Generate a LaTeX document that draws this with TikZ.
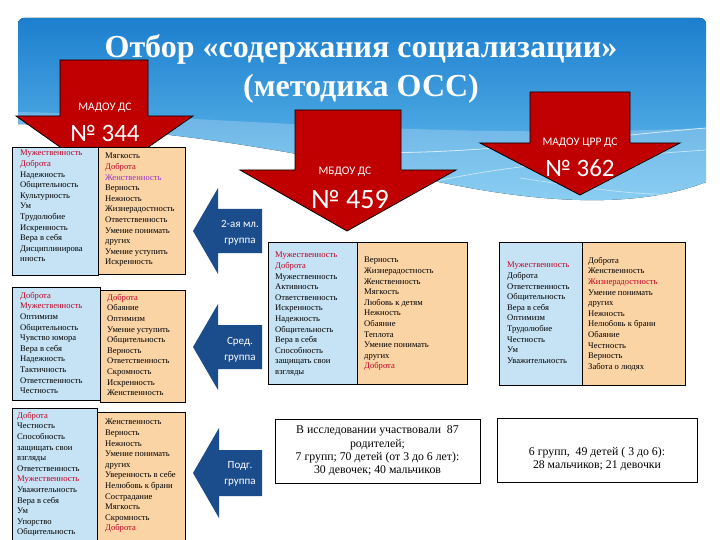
\documentclass[tikz,border=0pt]{standalone}
\usepackage{fontspec}
\setmainfont{Liberation Serif}
\newfontfamily\carl{Carlito}
\definecolor{redar}{HTML}{C00000}
\definecolor{bluear}{HTML}{1B4C8C}
\definecolor{boxblue}{HTML}{C6E3F6}
\definecolor{boxorange}{HTML}{FBD4A6}
\definecolor{tred}{HTML}{C00020}
\definecolor{tpurple}{HTML}{9933CC}
\definecolor{bantop}{HTML}{1C7FCE}
\definecolor{banbot}{HTML}{6CC2F0}
\newcommand\rd[1]{\textcolor{tred}{#1}}
\newcommand\pu[1]{\textcolor{tpurple}{#1}}
\tikzset{
  lst/.style={align=left, inner sep=0pt, anchor=north west, font=\fontsize{8.6}{10.6}\selectfont},
  bbox/.style={draw=black, line width=0.8pt, fill=boxblue},
  obox/.style={draw=black, line width=0.8pt, fill=boxorange},
  redarrow/.style={fill=redar, draw=black, line width=0.8pt},
  bluearrow/.style={fill=bluear},
  artxt/.style={text=white, inner sep=0pt, font=\carl\fontsize{11.5}{12}\selectfont},
  arnum/.style={text=white, inner sep=0pt, font=\carl\fontsize{25}{26}\selectfont},
  grptxt/.style={text=white, align=center, inner sep=0pt, font=\carl\fontsize{11}{16.5}\selectfont},
  infobox/.style={draw=black, line width=0.8pt, fill=white},
  infotxt/.style={align=center, inner sep=0pt, font=\fontsize{11.8}{13.2}\selectfont},
  titletxt/.style={text=white, inner sep=0pt, font=\bfseries\fontsize{32}{34}\selectfont}
}
\begin{document}
\begin{tikzpicture}[x=1pt,y=-1pt]
\useasboundingbox (0,0) rectangle (720,540);
\fill[white] (0,0) rectangle (720,540);
% banner
\begin{scope}
\clip[rounded corners=6pt] (18,18) rectangle (706,300);
\fill[top color=bantop, bottom color=banbot]
  (18,18) -- (706,18) -- (706,182)
  .. controls (650,204) and (570,206) .. (470,188)
  .. controls (360,168) and (220,130) .. (18,124) -- cycle;
\fill[white, opacity=0.22]
  (18,112) .. controls (220,116) and (430,140) .. (706,128)
  -- (706,182)
  .. controls (650,204) and (570,206) .. (470,188)
  .. controls (360,168) and (220,130) .. (18,124) -- cycle;
\draw[white, opacity=0.7, line width=0.8pt] (300,150) .. controls (450,160) and (560,140) .. (706,128);
\draw[white, opacity=0.6, line width=0.7pt] (420,185) .. controls (480,170) and (560,160) .. (706,150);
\draw[white, opacity=0.5, line width=0.7pt] (520,178) .. controls (600,190) and (640,196) .. (690,194);
\end{scope}
% title
\node[titletxt] (t1) at (361,49) {Отбор «содержания социализации»};
\node[titletxt] (t2) at (361,89) {(методика ОСС)};
% red arrows
\draw[redarrow] (60,60) -- (148,60) -- (148,116) -- (193,116) -- (104,178) -- (16,116) -- (60,116) -- cycle;
\node[artxt] (a1) at (105,108) {МАДОУ ДС};
\node[arnum] (n1) at (105,133) {№ 344};
\draw[redarrow] (295,110) -- (401,110) -- (401,170) -- (456,170) -- (347,231) -- (240,170) -- (295,170) -- cycle;
\node[artxt] (a2) at (345,172) {МБДОУ ДС};
\node[arnum, font=\carl\fontsize{28}{29}\selectfont] (n2) at (350,200) {№ 459};
\draw[redarrow] (530,92) -- (630,92) -- (630,143) -- (680,143) -- (580,195) -- (480,143) -- (530,143) -- cycle;
\node[artxt] (a3) at (580,143) {МАДОУ ЦРР ДС};
\node[arnum] (n3) at (580,168) {№ 362};
% blue arrows
\fill[bluear] (193,231) -- (218,188) -- (218,209) -- (262,209) -- (262,253) -- (218,253) -- (218,274) -- cycle;
\node[grptxt] (g1) at (240,233) {2-ая мл.\\группа};
\fill[bluear] (193,347) -- (218,304) -- (218,325) -- (262,325) -- (262,369) -- (218,369) -- (218,390) -- cycle;
\node[grptxt] (g2) at (240,350) {Сред.\\группа};
\fill[bluear] (193,473) -- (219,428) -- (219,450) -- (262,450) -- (262,496) -- (219,496) -- (219,518) -- cycle;
\node[grptxt] (g3) at (240,474) {Подг.\\группа};
% left boxes
\draw[bbox] (12,147) rectangle (98,275);
\draw[obox] (98,147) rectangle (185,274);
\node[lst] (l1b) at (20,150) {\rd{Мужественность}\\ \rd{Доброта}\\ Надежность\\ Общительность\\ Культурность\\ Ум\\ Трудолюбие\\ Искренность\\ Вера в себя\\ Дисциплинирова\\ нность};
\node[lst] (l1o) at (105,153) {Мягкость\\ \rd{Доброта}\\ \pu{Женственность}\\ Верность\\ Нежность\\ Жизнерадостность\\ Ответственность\\ Умение понимать\\ других\\ Умение уступить\\ Искренность};
\draw[bbox] (12,287) rectangle (100,400);
\draw[obox] (100,290) rectangle (185,402);
\node[lst] (l2b) at (20,292) {\rd{Доброта}\\ \rd{Мужественность}\\ Оптимизм\\ Общительность\\ Чувство юмора\\ Вера в себя\\ Надежность\\ Тактичность\\ Ответственность\\ Честность};
\node[lst] (l2o) at (107,294) {\rd{Доброта}\\ Обаяние\\ Оптимизм\\ Умение уступить\\ Общительность\\ Верность\\ Ответственность\\ Скромность\\ Искренность\\ Женственность};
\draw[bbox] (12,408) rectangle (97,545);
\draw[obox] (97,412) rectangle (185,545);
\node[lst] (l3b) at (17,412) {\rd{Доброта}\\ Честность\\ Способность\\ защищать свои\\ взгляды\\ Ответственность\\ \rd{Мужественность}\\ Уважительность\\ Вера в себя\\ Ум\\ Упорство\\ Общительность};
\node[lst] (l3o) at (105,419) {Женственность\\ Верность\\ Нежность\\ Умение понимать\\ других\\ Уверенность в себе\\ Нелюбовь к брани\\ Сострадание\\ Мягкость\\ Скромность\\ \rd{Доброта}};
% middle boxes
\draw[bbox] (268,242) rectangle (357,384);
\draw[obox] (357,242) rectangle (467,384);
\node[lst] (mb) at (275,252) {\rd{Мужественность}\\ \rd{Доброта}\\ Мужественность\\ Активность\\ Ответственность\\ Искренность\\ Надежность\\ Общительность\\ Вера в себя\\ Способность\\ защищать свои\\ взгляды};
\node[lst] (mo) at (364,257) {Верность\\ Жизнерадостность\\ Женственность\\ Мягкость\\ Любовь к детям\\ Нежность\\ Обаяние\\ Теплота\\ Умение понимать\\ других\\ \rd{Доброта}};
% right boxes
\draw[bbox] (499,242) rectangle (582,385);
\draw[obox] (582,242) rectangle (685,385);
\node[lst] (rb) at (507,262) {\rd{Мужественность}\\ Доброта\\ Ответственность\\ Общительность\\ Вера в себя\\ Оптимизм\\ Трудолюбие\\ Честность\\ Ум\\ Уважительность};
\node[lst] (ro) at (588,257) {Доброта\\ Женственность\\ \rd{Жизнерадостность}\\ Умение понимать\\ других\\ Нежность\\ Нелюбовь к брани\\ Обаяние\\ Честность\\ Верность\\ Забота о людях};
% info boxes
\draw[infobox] (275,419) rectangle (480,483);
\node[infotxt] (i1) at (377.5,451) {В исследовании участвовали\ \ 87\\ родителей;\\ 7 групп; 70 детей (от 3 до 6 лет):\\ 30 девочек; 40 мальчиков};
\draw[infobox] (497,418) rectangle (697,482);
\node[infotxt] (i2) at (597,459) {6 групп,\ \ 49 детей ( 3 до 6):\\ 28 мальчиков; 21 девочки};
\end{tikzpicture}
\end{document}
